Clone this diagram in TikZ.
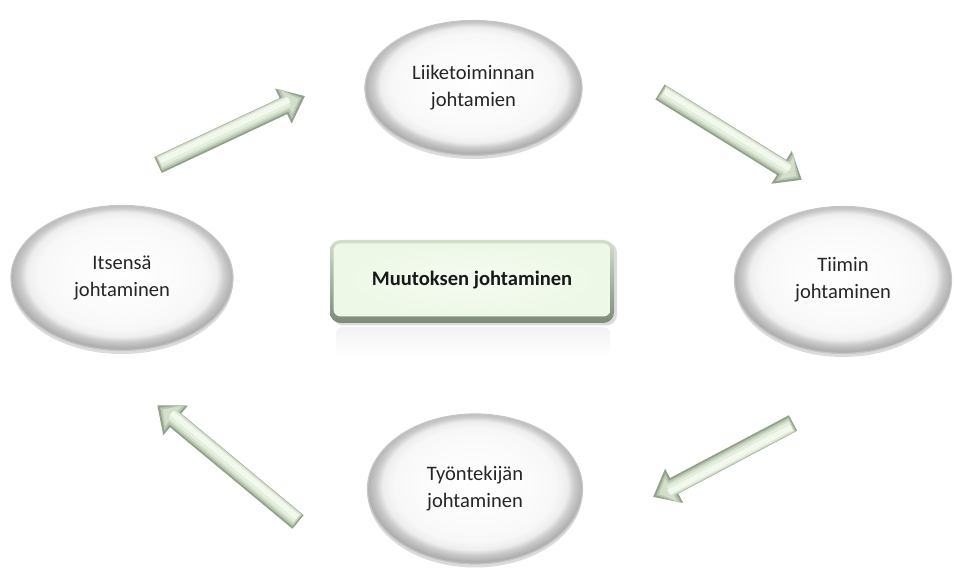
\documentclass[tikz,border=0pt]{standalone}
\usepackage{fontspec}
\setmainfont{Carlito}
\usetikzlibrary{shapes.geometric,shadows,calc}

\definecolor{arrA}{HTML}{93A18C}
\definecolor{arrB}{HTML}{B9C6B1}
\definecolor{arrC}{HTML}{D3DECB}
\definecolor{arrD}{HTML}{E4EEDC}
\definecolor{arrE}{HTML}{F3F8EE}
\definecolor{boxtop}{HTML}{D3DECB}
\definecolor{boxbot}{HTML}{7E8B79}
\definecolor{boxface}{HTML}{EDF8E6}

% pale grey disc with a narrow darker rim
\pgfdeclareradialshading{ellshade}{\pgfpoint{0bp}{2bp}}{%
  color(0bp)=(white); color(12bp)=(gray!3); color(19bp)=(gray!6);
  color(21.5bp)=(gray!14); color(23bp)=(gray!40); color(25bp)=(gray!62);
  color(50bp)=(gray!62)}

% bevelled block arrow from one named coordinate to another;
% #3 = 1 or -1 chooses the side that lies in shadow
\newcommand\blockarrow[3]{%
  \pgfpointdiff{\pgfpointanchor{#1}{center}}{\pgfpointanchor{#2}{center}}%
  \pgfgetlastxy{\bdx}{\bdy}%
  \pgfmathsetmacro\arrang{atan2(\bdy,\bdx)}%
  \pgfmathsetmacro\arrlen{veclen(\bdx,\bdy)}%
  \pgfmathsetmacro\arrbase{\arrlen-13.5}%
  \begin{scope}[shift={(#1)}, rotate=\arrang, yscale=#3]
    % head: dark base, lighter inner facet
    \fill[arrA] (\arrbase pt,-11pt) -- (\arrlen pt,0pt) -- (\arrbase pt,11pt) -- cycle;
    \fill[arrB] (\arrbase pt+1.2pt,-8.6pt) -- (\arrlen pt-2pt,0pt)
      -- (\arrbase pt+1.2pt,10.4pt) -- cycle;
    \fill[arrC] (\arrbase pt+2.6pt,-6.2pt) -- (\arrlen pt-3.8pt,0pt)
      -- (\arrbase pt+2.6pt,8.6pt) -- cycle;
    % shaft: layered strips give the rounded look
    \fill[arrA] (0pt,-5pt) rectangle (\arrbase pt+1pt,5pt);
    \fill[arrB] (0.8pt,-3.9pt) rectangle (\arrbase pt+2pt,4.8pt);
    \fill[arrC] (1.4pt,-2.8pt) rectangle (\arrbase pt+3pt,4.5pt);
    \fill[arrD] (1.8pt,-1.6pt) rectangle (\arrbase pt+4pt,4.0pt);
    \fill[arrE] (2.0pt,0.2pt) rectangle (\arrbase pt+4.5pt,3.2pt);
  \end{scope}%
}

\tikzset{
  bubble/.style={ellipse, shading=ellshade, align=center,
    draw=gray!45, line width=0.7pt,
    font=\fontsize{11.7}{15.5}\selectfont, text=black!85,
    drop shadow={shadow xshift=0pt, shadow yshift=-2pt, fill=gray!70, opacity=0.4}},
  txt/.style={font=\fontsize{11.7}{15.5}\selectfont\bfseries, text=black!90}
}

\begin{document}
\begin{tikzpicture}
\useasboundingbox (0,0) rectangle (19.08,11.64);

% circle of management areas
\node[bubble, minimum width=4.34cm, minimum height=2.70cm] (liike) at (9.47,9.88)
  {Liiketoiminnan\\johtamien};
\node[bubble, minimum width=4.44cm, minimum height=2.90cm] (itse) at (2.44,6.08)
  {Itsensä\\johtaminen};
\node[bubble, minimum width=4.34cm, minimum height=2.94cm] (tiimi) at (16.86,6.04)
  {Tiimin\\johtaminen};
\node[bubble, minimum width=4.30cm, minimum height=3.00cm] (tyon) at (9.50,1.86)
  {Työntekijän\\johtaminen};

% central box with a faint reflection below it
\shade[top color=gray!10, bottom color=white, rounded corners=4pt]
  (6.72,5.10) rectangle (12.20,4.50);
\fill[gray!60, opacity=0.45, rounded corners=6pt] (6.66,5.13) rectangle (12.34,6.80);
\shade[top color=boxtop, bottom color=boxbot, rounded corners=6pt]
  (6.60,5.18) rectangle (12.28,6.84);
\shade[inner color=boxface!55!white, outer color=boxface, rounded corners=4pt]
  (6.67,5.31) rectangle (12.21,6.77);
\node[txt] (muutos) at (9.44,6.03) {Muutoksen johtaminen};

% arrow end points
\coordinate (a1s) at (3.16,8.34);  \coordinate (a1e) at (6.10,9.72);
\coordinate (a2s) at (13.20,9.80); \coordinate (a2e) at (16.04,8.04);
\coordinate (a3s) at (15.86,3.18); \coordinate (a3e) at (13.06,1.70);
\coordinate (a4s) at (5.96,1.20);  \coordinate (a4e) at (3.14,3.54);

\blockarrow{a1s}{a1e}{1}
\blockarrow{a2s}{a2e}{1}
\blockarrow{a3s}{a3e}{1}
\blockarrow{a4s}{a4e}{-1}
\end{tikzpicture}
\end{document}
